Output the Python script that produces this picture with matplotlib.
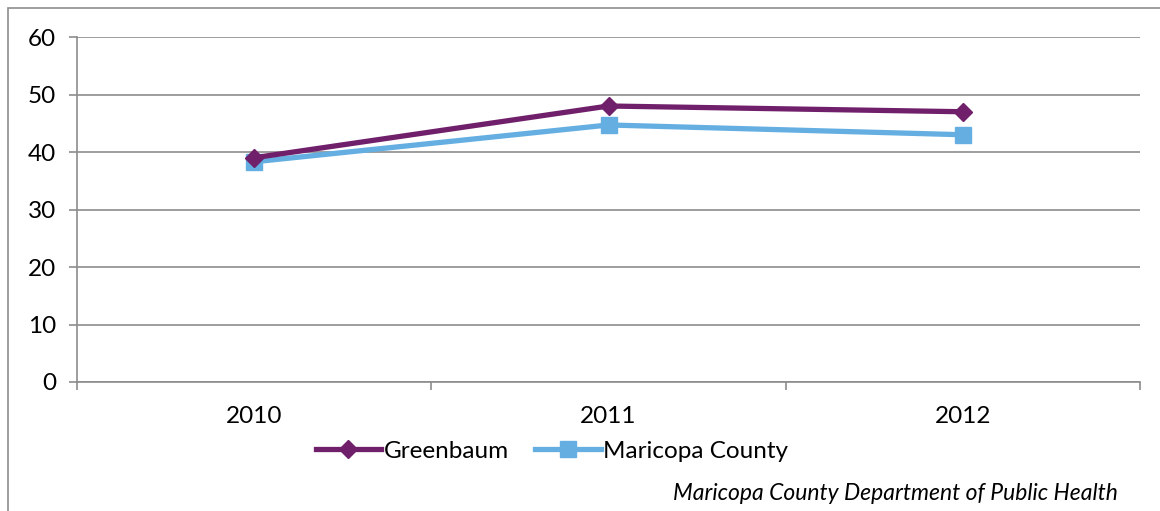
import matplotlib.pyplot as plt
from matplotlib.patches import Rectangle

# Data
years = ["2010", "2011", "2012"]
greenbaum = [39.0, 48.0, 47.0]
maricopa = [38.3, 44.7, 43.0]
y_ticks = [0, 10, 20, 30, 40, 50, 60]

plt.rcParams['font.family'] = ['Lato', 'DejaVu Sans']

fig = plt.figure(figsize=(11.6, 5.11), dpi=100)
ax = fig.add_axes([77 / 1160, 1 - 382 / 511, (1140 - 77) / 1160, (382 - 37) / 511])

x = list(range(len(years)))
ax.plot(x, greenbaum, color="#70206a", lw=3.8, marker="D", ms=9.5,
        label="Greenbaum", zorder=4)
ax.plot(x, maricopa, color="#64aee2", lw=3.8, marker="s", ms=11.5,
        label="Maricopa County", zorder=3)

grid_c = "#8c8c8c"
ax.set_xlim(-0.5, 2.5)
ax.set_ylim(0, 60)
ax.set_yticks(y_ticks)
ax.set_xticks(x)
ax.set_xticklabels(years)
ax.set_xticks([-0.5, 0.5, 1.5, 2.5], minor=True)
ax.tick_params(axis="x", which="major", length=0, pad=17, labelsize=17.5)
ax.tick_params(axis="x", which="minor", length=6, color=grid_c, width=1.2)
ax.tick_params(axis="y", length=6, color=grid_c, width=1.2, pad=9, labelsize=17.5)
ax.yaxis.grid(True, color=grid_c, lw=1.2)
ax.set_axisbelow(True)
for s in ["top", "right"]:
    ax.spines[s].set_visible(False)
for s in ["left", "bottom"]:
    ax.spines[s].set_color(grid_c)
    ax.spines[s].set_linewidth(1.2)

fig.legend(loc="center", bbox_to_anchor=(552 / 1160, 1 - 451 / 511), ncol=2,
           frameon=False, fontsize=17.5, handlelength=2.7, handletextpad=0.1,
           columnspacing=1.1)

fig.text(1118 / 1160, 1 - 494 / 511, "Maricopa County Department of Public Health",
         ha="right", va="center", fontsize=16.5, style="italic")

fig.patches.append(Rectangle((8 / 1160, -0.1), 1.2, 1 - 8 / 511 + 0.1,
                             transform=fig.transFigure, fill=False,
                             edgecolor="#8c8c8c", lw=1.2))

fig.savefig("out.png", dpi=100)
